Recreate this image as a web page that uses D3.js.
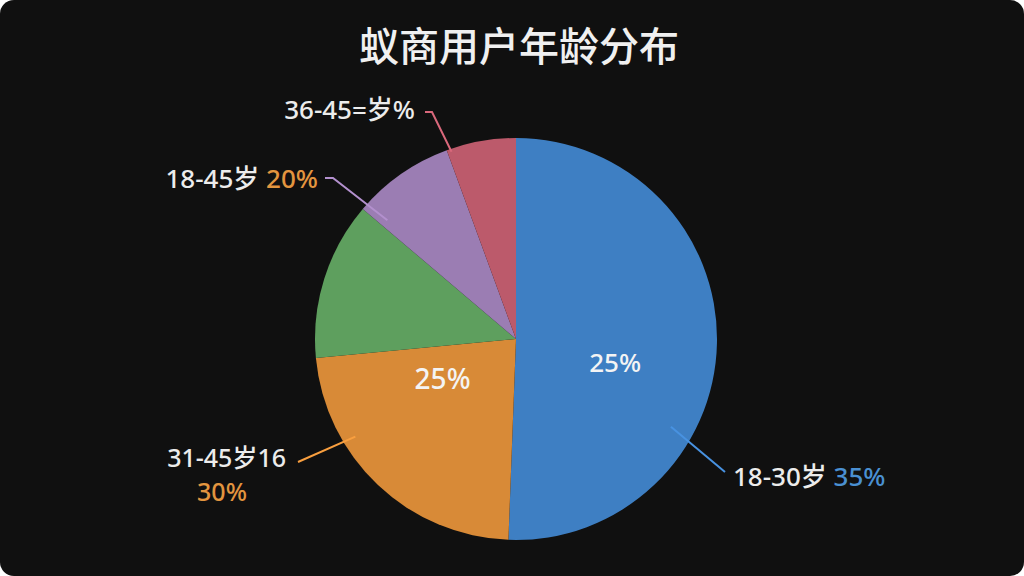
<!DOCTYPE html>
<html>
<head>
<meta charset="utf-8">
<script src="https://cdn.jsdelivr.net/npm/d3@7"></script>
<style>
  html, body { margin: 0; padding: 0; background: #fff; }
  svg { display: block; }
</style>
</head>
<body>
<svg id="chart" width="1024" height="576"></svg>
<script>
// data
const categories = ["18-30岁", "31-45岁", "46-55岁", "18-45岁", "36-45岁"]
const values = [50.6, 22.9, 12.7, 8.2, 5.6]
const colors = ["#3e7fc3", "#d88a37", "#5e9f5e", "#9b7db3", "#bc5a6b"]

// label texts as printed (the odd ones too)
const labelMain = ["18-30岁 ", "31-45岁16", "", "18-45岁 ", "36-45=岁%"]
const labelPct = ["35%", "30%", "", "20%", ""]
const labelPctColor = ["#4a90d2", "#e3953f", "", "#e3953f", ""]
const innerText = ["25%", "25%", "", "", ""]

const W = 1024, H = 576
const cx = 516, cy = 339, R = 201
const deg = Math.PI / 180

const svg = d3.select("#chart")

// card
svg.append("rect").attr("width", W).attr("height", H).attr("rx", 14).attr("fill", "#101010")

svg.append("text")
  .attr("x", 519).attr("y", 61)
  .attr("text-anchor", "middle")
  .attr("fill", "#f0f0f0")
  .attr("font-family", "'Noto Sans CJK SC', sans-serif")
  .attr("font-weight", 500)
  .attr("font-size", 40)
  .text("蚁商用户年龄分布")

const pie = d3.pie().sort(null).value(d => d)
const arcs = pie(values)
const arc = d3.arc().innerRadius(0).outerRadius(R)

const g = svg.append("g").attr("transform", `translate(${cx},${cy})`)

g.selectAll("path.slice").data(arcs).enter().append("path")
  .attr("class", "slice")
  .attr("d", arc)
  .attr("fill", (d, i) => colors[i])

// leader lines: [angle, radius] inside the pie -> elbow -> end
const leaders = [
  {i: 0, a: 119.5, r: 178, pts: [[725, 472]]},
  {i: 1, a: 238.7, r: 188, pts: [[298, 462]]},
  {i: 3, a: 312.7, r: 175, pts: [[333, 178], [325, 178]]},
  {i: 4, a: 341, r: 198, pts: [[432, 112], [425, 112]]}
]
const line = d3.line()
leaders.forEach(l => {
  let p0 = d3.pointRadial(l.a * deg, l.r)
  let p = [[p0[0] + cx, p0[1] + cy]].concat(l.pts)
  svg.append("path")
    .attr("d", line(p))
    .attr("fill", "none")
    .attr("stroke", d3.color(colors[l.i]).brighter(0.4))
    .attr("stroke-width", 2)
})

// outside labels
const font = "'Noto Sans', 'Noto Sans CJK SC', sans-serif"
const outLabels = [
  {i: 0, x: 733, y: 486, anchor: "start", size: 26},
  {i: 1, x: 286, y: 467, anchor: "end", size: 25},
  {i: 3, x: 318, y: 188, anchor: "end", size: 26},
  {i: 4, x: 415, y: 119, anchor: "end", size: 26}
]
outLabels.forEach(o => {
  let t = svg.append("text")
    .attr("x", o.x).attr("y", o.y)
    .attr("text-anchor", o.anchor)
    .attr("font-family", font)
    .attr("font-weight", 500)
    .attr("font-size", o.size)
    .attr("fill", "#ececec")
  t.append("tspan").text(labelMain[o.i])
  if (labelPct[o.i] && o.i != 1) {
    t.append("tspan").attr("fill", labelPctColor[o.i]).text(labelPct[o.i])
  }
})
// the 31-45 label wraps its percentage onto a second line
svg.append("text")
  .attr("x", 222).attr("y", 501)
  .attr("text-anchor", "middle")
  .attr("font-family", font)
  .attr("font-weight", 500)
  .attr("font-size", 25)
  .attr("fill", labelPctColor[1])
  .text(labelPct[1])

// labels inside the slices
const inner = [{i: 0, a: 103.6, r: 102}, {i: 1, a: 241, r: 84}]
inner.forEach(o => {
  let p = d3.pointRadial(o.a * deg, o.r)
  g.append("text")
    .attr("x", p[0]).attr("y", p[1] + 9)
    .attr("text-anchor", "middle")
    .attr("font-family", font)
    .attr("font-weight", 500)
    .attr("font-size", o.i == 1 ? 28 : 26)
    .attr("fill", "#f4f4f4")
    .text(innerText[o.i])
})
</script>
</body>
</html>
